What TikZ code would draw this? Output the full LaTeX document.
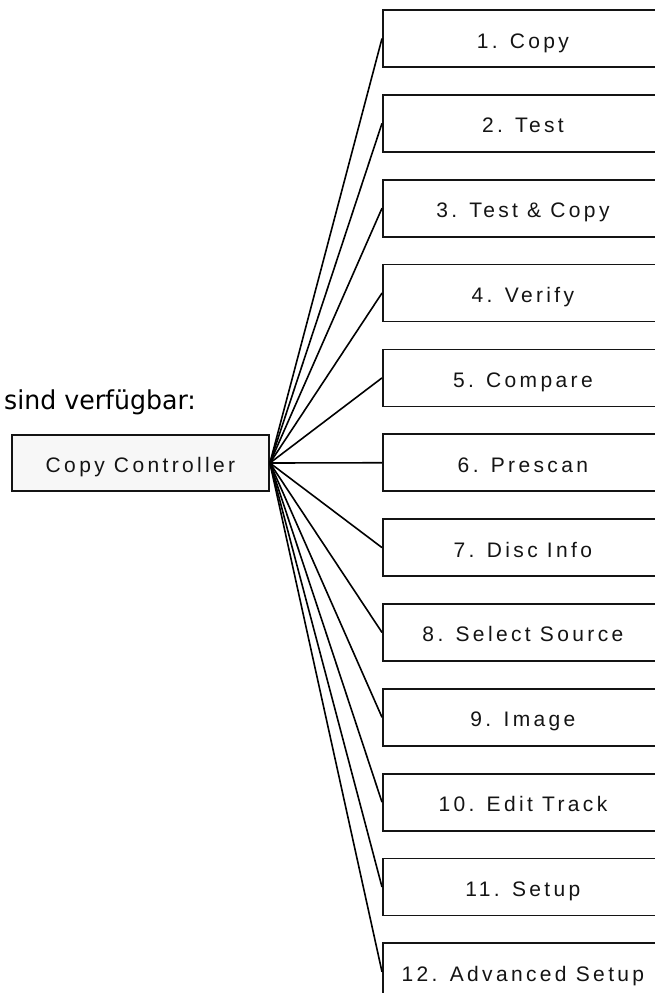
\documentclass[tikz,border=0pt]{standalone}
\usepackage{fontspec}
\setmainfont{Liberation Sans}
\newfontfamily\boxfont[LetterSpace=16]{Liberation Sans}
\newfontfamily\notefont[FakeStretch=0.97]{DejaVu Sans}

\begin{document}
\begin{tikzpicture}[x=1pt,y=-1pt,
  boxbase/.style={draw=black!92, line width=1.8pt, inner sep=0pt,
    text height=20pt, text depth=1pt, text=black!92,
    font=\boxfont\fontsize{21}{25}\selectfont},
  ctrl/.style={boxbase, fill=black!3, minimum width=257pt, minimum height=56pt},
  item/.style={boxbase, fill=white, minimum width=280pt, minimum height=57pt, anchor=west},
  link/.style={draw=black, line width=1.6pt}]
  \useasboundingbox (0,0) rectangle (654,993);

  % heading
  \node[anchor=base west, inner sep=0pt, font=\notefont\fontsize{26}{30}\selectfont]
    (head) at (4,409.3) {sind verfügbar:};

  % central node
  \node[ctrl] (cc) at (140.5,463) {Copy Controller};

  % menu entries
  \foreach \i/\t in {1/{1. Copy}, 2/{2. Test}, 3/{3. Test \& Copy}, 4/{4. Verify},
                     5/{5. Compare}, 6/{6. Prescan}, 7/{7. Disc Info},
                     8/{8. Select Source}, 9/{9. Image}, 10/{10. Edit Track},
                     11/{11. Setup}, 12/{12. Advanced Setup}} {
    \node[item] (b\i) at (382,{38.5+84.85*(\i-1)}) {\t};
  }

  % fan of connectors
  \foreach \i in {1,...,12} {
    \draw[link] (cc.east) -- (b\i.west);
  }
\end{tikzpicture}
\end{document}
